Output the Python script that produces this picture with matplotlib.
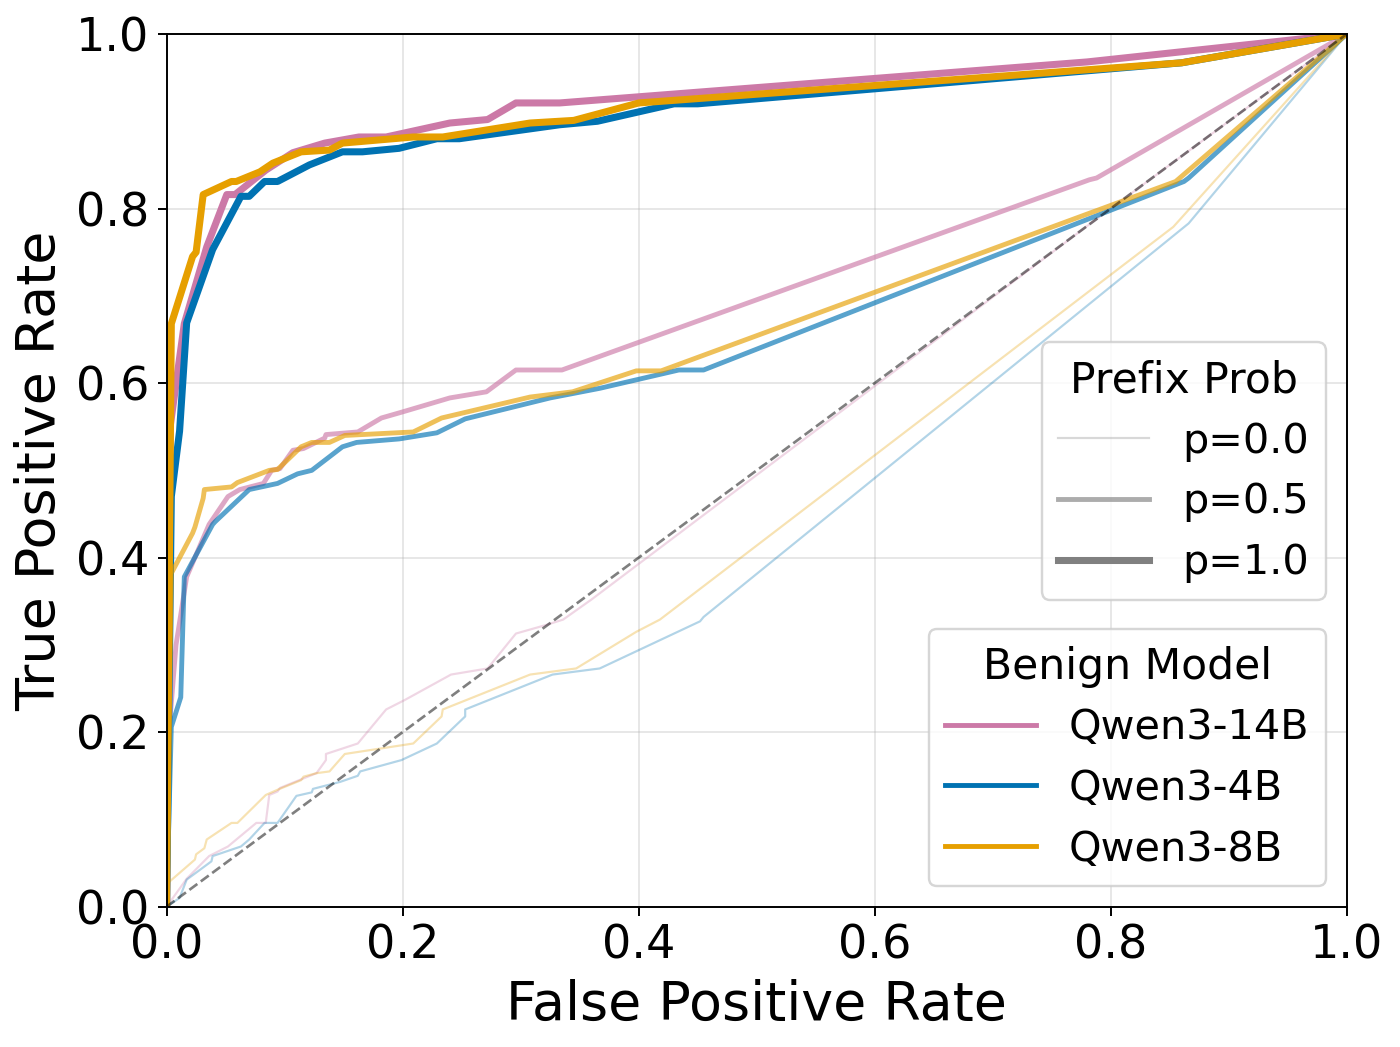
import matplotlib
matplotlib.use('Agg')
import matplotlib.pyplot as plt
from matplotlib.lines import Line2D

# ROC curves: (model, prefix prob) -> fpr / tpr
models = ['Qwen3-14B', 'Qwen3-4B', 'Qwen3-8B']
colors = ['#CC79A7', '#0072B2', '#E69F00']
probs = [0.0, 0.5, 1.0]

# Qwen3-14B
fpr_14b_p00 = [0, 0.017, 0.036, 0.052, 0.076, 0.084, 0.087, 0.094, 0.096, 0.116, 0.127, 0.135, 0.135,
               0.162, 0.186, 0.202, 0.241, 0.272, 0.296, 0.322, 0.336, 0.36, 0.78, 1.0]
tpr_14b_p00 = [0, 0.032, 0.058, 0.069, 0.096, 0.096, 0.128, 0.132, 0.136, 0.147, 0.153, 0.168, 0.175,
               0.187, 0.226, 0.237, 0.266, 0.273, 0.313, 0.323, 0.329, 0.352, 0.78, 1.0]
fpr_14b_p05 = [0, 0.002, 0.008, 0.017, 0.036, 0.052, 0.062, 0.082, 0.089, 0.096, 0.107, 0.116, 0.134,
               0.135, 0.162, 0.182, 0.2, 0.24, 0.271, 0.296, 0.335, 0.782, 0.788, 1.0]
tpr_14b_p05 = [0, 0.2, 0.3, 0.378, 0.438, 0.47, 0.478, 0.485, 0.50, 0.502, 0.523, 0.525, 0.537,
               0.541, 0.544, 0.56, 0.567, 0.583, 0.59, 0.615, 0.615, 0.833, 0.835, 1.0]
fpr_14b_p10 = [0, 0.003, 0.015, 0.034, 0.051, 0.058, 0.084, 0.107, 0.134, 0.163, 0.186, 0.24, 0.272,
               0.296, 0.333, 0.78, 1.0]
tpr_14b_p10 = [0, 0.55, 0.668, 0.756, 0.816, 0.816, 0.844, 0.864, 0.875, 0.882, 0.882, 0.898, 0.902,
               0.921, 0.921, 0.968, 1.0]

# Qwen3-4B
fpr_4b_p00 = [0, 0.011, 0.017, 0.038, 0.039, 0.063, 0.07, 0.083, 0.094, 0.11, 0.123, 0.124, 0.147,
              0.162, 0.164, 0.199, 0.229, 0.253, 0.253, 0.327, 0.367, 0.452, 0.455, 0.866, 1.0]
tpr_4b_p00 = [0, 0.01, 0.031, 0.052, 0.058, 0.069, 0.077, 0.096, 0.096, 0.127, 0.131, 0.135, 0.143,
              0.15, 0.155, 0.168, 0.187, 0.218, 0.226, 0.266, 0.273, 0.327, 0.332, 0.783, 1.0]
fpr_4b_p05 = [0, 0.004, 0.012, 0.015, 0.039, 0.041, 0.07, 0.094, 0.111, 0.123, 0.149, 0.161, 0.197,
              0.229, 0.253, 0.325, 0.367, 0.434, 0.455, 0.862, 0.866, 1.0]
tpr_4b_p05 = [0, 0.206, 0.24, 0.378, 0.438, 0.441, 0.478, 0.485, 0.496, 0.50, 0.527, 0.532, 0.536,
              0.543, 0.559, 0.583, 0.594, 0.615, 0.615, 0.831, 0.835, 1.0]
fpr_4b_p10 = [0, 0.004, 0.011, 0.017, 0.039, 0.063, 0.07, 0.083, 0.094, 0.121, 0.149, 0.166, 0.197,
              0.229, 0.248, 0.333, 0.365, 0.43, 0.45, 0.86, 1.0]
tpr_4b_p10 = [0, 0.47, 0.545, 0.669, 0.753, 0.814, 0.814, 0.831, 0.831, 0.85, 0.865, 0.865, 0.869,
              0.88, 0.88, 0.896, 0.90, 0.92, 0.92, 0.967, 1.0]

# Qwen3-8B
fpr_8b_p00 = [0, 0.001, 0.024, 0.025, 0.032, 0.034, 0.055, 0.06, 0.084, 0.094, 0.114, 0.116, 0.127,
              0.138, 0.151, 0.209, 0.233, 0.234, 0.308, 0.347, 0.398, 0.418, 0.853, 1.0]
tpr_8b_p00 = [0, 0.027, 0.054, 0.06, 0.067, 0.077, 0.096, 0.096, 0.128, 0.134, 0.145, 0.149, 0.153,
              0.155, 0.175, 0.187, 0.218, 0.226, 0.266, 0.273, 0.315, 0.329, 0.779, 1.0]
fpr_8b_p05 = [0, 0.004, 0.022, 0.024, 0.031, 0.032, 0.055, 0.06, 0.087, 0.094, 0.114, 0.123, 0.138,
              0.151, 0.209, 0.233, 0.308, 0.344, 0.398, 0.419, 0.855, 1.0]
tpr_8b_p05 = [0, 0.382, 0.428, 0.435, 0.468, 0.478, 0.481, 0.486, 0.50, 0.501, 0.527, 0.532, 0.532,
              0.54, 0.544, 0.56, 0.584, 0.59, 0.614, 0.614, 0.831, 1.0]
fpr_8b_p10 = [0, 0.004, 0.022, 0.025, 0.031, 0.055, 0.059, 0.079, 0.09, 0.114, 0.138, 0.149, 0.209,
              0.234, 0.308, 0.345, 0.40, 0.86, 1.0]
tpr_8b_p10 = [0, 0.668, 0.745, 0.75, 0.816, 0.831, 0.831, 0.842, 0.852, 0.865, 0.867, 0.875, 0.882,
              0.882, 0.898, 0.901, 0.921, 0.967, 1.0]

curves = {
    'Qwen3-14B': [(fpr_14b_p00, tpr_14b_p00), (fpr_14b_p05, tpr_14b_p05), (fpr_14b_p10, tpr_14b_p10)],
    'Qwen3-4B': [(fpr_4b_p00, tpr_4b_p00), (fpr_4b_p05, tpr_4b_p05), (fpr_4b_p10, tpr_4b_p10)],
    'Qwen3-8B': [(fpr_8b_p00, tpr_8b_p00), (fpr_8b_p05, tpr_8b_p05), (fpr_8b_p10, tpr_8b_p10)],
}

# стиль линии зависит от prefix prob
widths = [0.9, 2.0, 2.9]
alphas = [0.3, 0.65, 1.0]

fig = plt.figure(figsize=(8, 5.983), dpi=175)
ax = fig.add_axes([0.119, 0.134, 0.843, 0.8335])

for model, color in zip(models, colors):
    for i, (fpr, tpr) in enumerate(curves[model]):
        ax.plot(fpr, tpr, color=color, lw=widths[i], alpha=alphas[i])

ax.plot([0, 1], [0, 1], 'k--', lw=1.1, alpha=0.5)

ax.set_xlim(0, 1)
ax.set_ylim(0, 1)
ax.set_xticks([0, 0.2, 0.4, 0.6, 0.8, 1.0])
ax.set_yticks([0, 0.2, 0.4, 0.6, 0.8, 1.0])
ax.tick_params(labelsize=19)
ax.grid(True, alpha=0.3)
ax.set_xlabel('False Positive Rate', fontsize=22.2)
ax.set_ylabel('True Positive Rate', fontsize=22.2)

# легенда по prefix prob (серые линии)
prob_handles = [Line2D([0], [0], color='gray', lw=widths[i], alpha=alphas[i]) for i in range(3)]
prob_labels = [f'p={p:.1f}' for p in probs]
leg1 = ax.legend(prob_handles, prob_labels, title='Prefix Prob', fontsize=17, title_fontsize=17.5,
                 handlelength=2.2, loc='lower right', bbox_to_anchor=(0.982, 0.352), borderaxespad=0)
ax.add_artist(leg1)

# легенда по моделям
model_handles = [Line2D([0], [0], color=c, lw=2.0) for c in colors]
ax.legend(model_handles, models, title='Benign Model', fontsize=17, title_fontsize=17.5,
          handlelength=2.2, loc='lower right')

fig.savefig('out.png', dpi=175)
